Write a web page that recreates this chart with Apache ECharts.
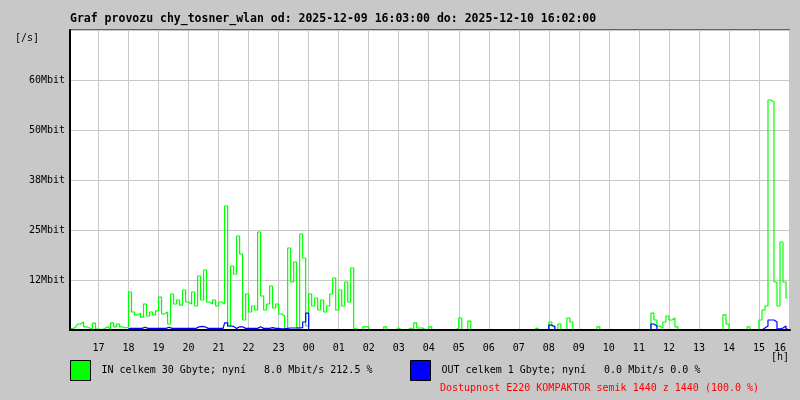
<!DOCTYPE html>
<html><head><meta charset="utf-8">
<script src="https://cdn.jsdelivr.net/npm/echarts@6/dist/echarts.min.js"></script>
<style>html,body{margin:0;padding:0;background:#c8c8c8}#c{width:800px;height:400px}</style>
</head><body><div id="c"></div>
<script>
const titleText = 'Graf provozu chy_tosner_wlan od: 2025-12-09 16:03:00 do: 2025-12-10 16:02:00';
const inName = 'IN celkem 30 Gbyte; nyní   8.0 Mbit/s 212.5 %';
const outName = 'OUT celkem 1 Gbyte; nyní   0.0 Mbit/s 0.0 %';
const availText = 'Dostupnost E220 KOMPAKTOR semik 1440 z 1440 (100.0 %)';
const yUnitText = '[/s]';
const xUnitText = '[h]';
const startTime = [2025, 11, 9, 16, 3];
const endTime = [2025, 11, 10, 16, 2];
const stepMinutes = 6;
const yTickValues = [0, 12.5, 25, 37.5, 50, 62.5, 75];
const yTickLabels = ['', '12Mbit', '25Mbit', '38Mbit', '50Mbit', '60Mbit', ''];

const inValues = [
  0.5, 0.3, 0.8, 1.5, 2.0, 0.8, 0.5, 0.2, 1.7, 0.2, 0.1, 0.3, 0.8, 0.3, 1.8, 0.8, 1.5, 0.8, 0.5, 0.8,
  9.5, 4.5, 3.8, 4.2, 3.2, 6.5, 3.5, 4.5, 3.8, 4.8, 8.2, 4.0, 4.5, 1.5, 9.0, 6.5, 7.5, 6.2, 10.0, 7.0,
  6.5, 9.5, 6.0, 13.5, 7.5, 15.0, 7.0, 6.5, 7.5, 6.0, 7.0, 6.5, 31.0, 1.0, 16.0, 14.0, 23.5, 19.0, 2.5, 9.0,
  4.5, 6.0, 5.0, 24.5, 8.5, 5.0, 6.5, 11.0, 5.5, 6.5, 4.0, 3.5, 0.3, 20.5, 12.0, 17.0, 0.5, 24.0, 18.0, 1.0,
  9.0, 6.0, 8.0, 5.0, 7.5, 4.5, 6.0, 9.0, 13.0, 5.0, 10.0, 6.0, 12.0, 7.0, 15.5, 0.3, 0, 0, 0.8, 0.8,
  0, 0, 0, 0, 0, 0.8, 0, 0, 0, 0.5, 0, 0, 0, 0.5, 0, 1.8, 0.5, 0.5, 0, 0,
  0.8, 0, 0, 0, 0, 0, 0, 0, 0, 0.5, 3.0, 0, 0, 2.2, 0, 0, 0, 0, 0, 0,
  0, 0, 0, 0, 0, 0, 0, 0, 0, 0, 0, 0, 0, 0, 0, 0.5, 0, 0, 0, 0,
  2.0, 1.0, 0, 1.5, 0, 0, 3.0, 2.0, 0, 0, 0, 0, 0, 0, 0, 0, 0.8, 0, 0, 0,
  0, 0, 0, 0, 0, 0, 0, 0, 0, 0, 0, 0, 0, 0, 4.2, 2.5, 1.0, 0.5, 2.0, 3.5,
  2.5, 3.0, 0.8, 0, 0, 0, 0, 0, 0, 0, 0, 0, 0, 0, 0, 0, 0, 0, 3.8, 1.5,
  0, 0, 0, 0, 0, 0, 0.8, 0, 0, 0, 2.5, 5.0, 6.0, 57.5, 57.0, 12.0, 6.0, 22.0, 12.0, 8.0
];
const outValues = [
  0, 0, 0, 0, 0, 0, 0, 0, 0, 0, 0, 0, 0, 0, 0, 0, 0, 0, 0, 0,
  0.4, 0.4, 0.4, 0.4, 0.4, 0.7, 0.4, 0.4, 0.4, 0.4, 0.4, 0.4, 0.4, 0.7, 0.4, 0.4, 0.4, 0.4, 0.4, 0.4,
  0.4, 0.4, 0.4, 0.8, 0.9, 0.8, 0.4, 0.4, 0.4, 0.4, 0.4, 0.4, 1.8, 1.0, 0.9, 0.4, 0.8, 0.8, 0.4, 0.4,
  0.4, 0.4, 0.4, 0.8, 0.4, 0.4, 0.4, 0.6, 0.4, 0.4, 0.3, 0.3, 0.4, 0.5, 0.5, 0.5, 0.5, 0.6, 2.0, 4.2,
  0.1, 0.1, 0, 0, 0, 0, 0, 0, 0, 0, 0, 0, 0, 0, 0, 0, 0, 0, 0, 0,
  0, 0, 0, 0, 0, 0, 0, 0, 0, 0, 0, 0, 0, 0, 0, 0, 0, 0, 0, 0,
  0, 0, 0, 0, 0, 0, 0, 0, 0, 0, 0, 0, 0, 0, 0, 0, 0, 0, 0, 0,
  0, 0, 0, 0, 0, 0, 0, 0, 0, 0, 0, 0, 0, 0, 0, 0, 0, 0, 0, 0,
  1.2, 0.8, 0, 0, 0, 0, 0, 0, 0, 0, 0, 0, 0, 0, 0, 0, 0, 0, 0, 0,
  0, 0, 0, 0, 0, 0, 0, 0, 0, 0, 0, 0, 0, 0, 1.5, 1.0, 0, 0, 0, 0,
  0, 0, 0, 0, 0, 0, 0, 0, 0, 0, 0, 0, 0, 0, 0, 0, 0, 0, 0, 0,
  0, 0, 0, 0, 0, 0, 0, 0, 0, 0, 0, 0.5, 1.0, 2.5, 2.5, 2.0, 0.3, 0.5, 1.0, 0.3
];

const MONO = '"DejaVu Sans Mono", monospace';
const t0 = new Date(...startTime).getTime();
const t1 = new Date(...endTime).getTime();
const toPoints = arr => arr.map((v, i) => [t0 + i * stepMinutes * 60000, v]);
const pad = n => (n < 10 ? '0' : '') + n;
const lastHour = endTime[3];

const chart = echarts.init(document.getElementById('c'), null, {renderer: 'canvas'});
chart.setOption({
  animation: false,
  backgroundColor: '#c8c8c8',
  title: {
    text: titleText, left: 70, top: 13, padding: 0,
    textStyle: {fontFamily: MONO, fontWeight: 'bold', fontSize: 11.5, color: '#000'}
  },
  grid: {left: 70, right: 10, top: 30, bottom: 70, outerBoundsMode: 'none', containLabel: false,
    show: true, backgroundColor: '#fff', borderColor: '#000', borderWidth: 1},
  xAxis: [{
    type: 'time', min: t0, max: t1, minInterval: 3600000, maxInterval: 3600000,
    axisLine: {show: false}, axisTick: {show: false},
    splitLine: {show: true, lineStyle: {color: '#c8c8c8', width: 1}},
    axisLabel: {
      formatter: v => { const h = new Date(v).getHours(); return h === lastHour ? pad(h) + '   ' : pad(h); },
      fontFamily: MONO, fontSize: 10, color: '#000', margin: 13
    }
  }, {
    type: 'time', min: t0, max: t1, position: 'bottom', z: 10,
    axisLine: {show: true, onZero: false, lineStyle: {color: '#000', width: 2}},
    axisTick: {show: false}, axisLabel: {show: false}, splitLine: {show: false}
  }],
  yAxis: [{
    type: 'value', min: 0, max: 75, interval: 12.5,
    axisLine: {show: false}, axisTick: {show: false},
    splitLine: {show: true, lineStyle: {color: '#c8c8c8', width: 1}},
    axisLabel: {
      formatter: v => { const k = yTickValues.indexOf(v); return k >= 0 ? yTickLabels[k] : ''; },
      fontFamily: MONO, fontSize: 10, color: '#000', margin: 5
    }
  }, {
    type: 'value', min: 0, max: 75, position: 'left', offset: 0, z: 10,
    axisLine: {show: true, onZero: false, lineStyle: {color: '#000', width: 2}},
    axisTick: {show: false}, axisLabel: {show: false}, splitLine: {show: false}
  }],
  legend: [{
    left: 70, top: 360, padding: 0, itemWidth: 20, itemHeight: 20, icon: 'rect', selectedMode: false,
    data: [inName], formatter: n => ' ' + n,
    itemStyle: {borderColor: '#000', borderWidth: 1},
    textStyle: {fontFamily: MONO, fontSize: 10, color: '#000', padding: [0, 0, 5, 0]}
  }, {
    left: 410, top: 360, padding: 0, itemWidth: 20, itemHeight: 20, icon: 'rect', selectedMode: false,
    data: [outName], formatter: n => ' ' + n,
    itemStyle: {borderColor: '#000', borderWidth: 1},
    textStyle: {fontFamily: MONO, fontSize: 10, color: '#000', padding: [0, 0, 5, 0]}
  }],
  graphic: [
    {type: 'text', left: 15, top: 33, style: {text: yUnitText, font: '10px ' + MONO, fill: '#000'}},
    {type: 'text', left: 771, top: 352, style: {text: xUnitText, font: '10px ' + MONO, fill: '#000'}},
    {type: 'text', left: 440, top: 383, style: {text: availText, font: '10px ' + MONO, fill: '#ff0000'}}
  ],
  series: [{
    name: inName, type: 'line', step: 'middle', symbol: 'none', color: '#00ff00',
    lineStyle: {width: 1.2, color: '#00ff00'}, data: toPoints(inValues)
  }, {
    name: outName, type: 'line', step: 'middle', symbol: 'none', color: '#0000ff',
    lineStyle: {width: 1.2, color: '#0000ff'}, data: toPoints(outValues)
  }]
});
</script>
</body></html>
